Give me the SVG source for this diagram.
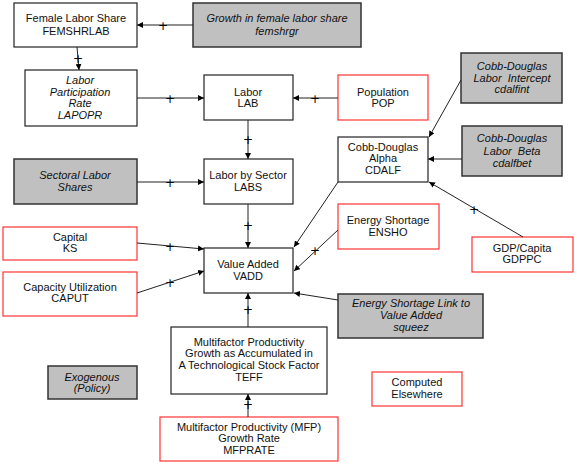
<svg xmlns="http://www.w3.org/2000/svg" width="577" height="464" viewBox="0 0 577 464">
<defs>
<marker id="ah" markerUnits="userSpaceOnUse" markerWidth="7" markerHeight="6" refX="6" refY="3" orient="auto">
<path d="M0,0 L6,3 L0,6 z" fill="#000"/>
</marker>
<style>
text{font-family:"Liberation Sans",Arial,sans-serif;font-size:11px;text-anchor:middle;fill:#111}
.it{font-style:italic}
.bw{fill:#fff;stroke:#222;stroke-width:1.2}
.bg{fill:#c0c0c0;stroke:#333;stroke-width:1.5}
.br{fill:#fff;stroke:#f33;stroke-width:1.2}
.c line{stroke:#222;stroke-width:1;marker-end:url(#ah)}
.p{font-family:"DejaVu Sans",sans-serif;font-size:12px;fill:#000}
</style>
</defs>
<rect width="577" height="464" fill="#fff"/>
<g id="femshrlab"><rect class="bw" x="14" y="3" width="123" height="44"/><text x="76" y="22">Female Labor Share</text><text x="76" y="35">FEMSHRLAB</text></g>
<g id="femshrgr"><rect class="bg" x="193" y="3" width="168" height="44"/><text class="it" x="277" y="22">Growth in female labor share</text><text class="it" x="277" y="35">femshrgr</text></g>
<g id="lapopr"><rect class="bw" x="25" y="70" width="112" height="56"/><text class="it" x="80" y="84">Labor</text><text class="it" x="80" y="96">Participation</text><text class="it" x="80" y="107">Rate</text><text class="it" x="80" y="119">LAPOPR</text></g>
<g id="lab"><rect class="bw" x="204" y="75" width="89" height="45"/><text x="248" y="96">Labor</text><text x="248" y="107">LAB</text></g>
<g id="pop"><rect class="br" x="338" y="75" width="90" height="45"/><text x="383" y="96">Population</text><text x="383" y="107">POP</text></g>
<g id="cdalfint"><rect class="bg" x="461" y="53" width="101" height="50"/><text class="it" x="512" y="70">Cobb-Douglas</text><text class="it" x="512" y="82" xml:space="preserve">Labor  Intercept</text><text class="it" x="512" y="93">cdalfint</text></g>
<g id="cdalf"><rect class="bw" x="338" y="137" width="90" height="45"/><text x="383" y="151">Cobb-Douglas</text><text x="383" y="162">Alpha</text><text x="383" y="174">CDALF</text></g>
<g id="cdalfbet"><rect class="bg" x="462" y="126" width="100" height="50"/><text class="it" x="512" y="142">Cobb-Douglas</text><text class="it" x="512" y="155" xml:space="preserve">Labor  Beta</text><text class="it" x="512" y="167">cdalfbet</text></g>
<g id="sectoral"><rect class="bg" x="14" y="159" width="123" height="45"/><text class="it" x="75" y="179">Sectoral Labor</text><text class="it" x="75" y="191">Shares</text></g>
<g id="labs"><rect class="bw" x="204" y="159" width="89" height="45"/><text x="248" y="179">Labor by Sector</text><text x="248" y="191">LABS</text></g>
<g id="ks"><rect class="br" x="3" y="227" width="134" height="33"/><text x="70" y="241">Capital</text><text x="70" y="252">KS</text></g>
<g id="caput"><rect class="br" x="3" y="272" width="134" height="44"/><text x="70" y="291">Capacity Utilization</text><text x="70" y="302">CAPUT</text></g>
<g id="vadd"><rect class="bw" x="204" y="248" width="89" height="45"/><text x="248" y="268">Value Added</text><text x="248" y="280">VADD</text></g>
<g id="ensho"><rect class="br" x="338" y="204" width="101" height="45"/><text x="388" y="224">Energy Shortage</text><text x="388" y="236">ENSHO</text></g>
<g id="gdppc"><rect class="br" x="472" y="237" width="101" height="35"/><text x="522" y="252">GDP/Capita</text><text x="522" y="263">GDPPC</text></g>
<g id="squeez"><rect class="bg" x="338" y="294" width="145" height="44"/><text class="it" x="411" y="307">Energy Shortage Link to</text><text class="it" x="411" y="319">Value Added</text><text class="it" x="411" y="331">squeez</text></g>
<g id="teff"><rect class="bw" x="171" y="327" width="156" height="67"/><text x="249" y="346">Multifactor Productivity</text><text x="249" y="357">Growth as Accumulated in</text><text x="249" y="369">A Technological Stock Factor</text><text x="249" y="381">TEFF</text></g>
<g id="exogenous"><rect class="bg" x="48" y="366" width="89" height="33"/><text class="it" x="92" y="381">Exogenous</text><text class="it" x="92" y="392">(Policy)</text></g>
<g id="computed"><rect class="br" x="372" y="372" width="90" height="34"/><text x="417" y="386">Computed</text><text x="417" y="398">Elsewhere</text></g>
<g id="mfprate"><rect class="br" x="160" y="417" width="178" height="44"/><text x="249" y="431">Multifactor Productivity (MFP)</text><text x="249" y="442">Growth Rate</text><text x="249" y="454">MFPRATE</text></g>
<g id="connectors" class="c">
<line x1="193" y1="25" x2="137" y2="25"/>
<line x1="77" y1="47" x2="79" y2="70"/>
<line x1="137" y1="98" x2="204" y2="98"/>
<line x1="338" y1="98" x2="293" y2="98"/>
<line x1="248" y1="120" x2="248" y2="159"/>
<line x1="137" y1="182" x2="204" y2="182"/>
<line x1="248" y1="204" x2="248" y2="248"/>
<line x1="137" y1="243" x2="204" y2="249"/>
<line x1="137" y1="293" x2="204" y2="271"/>
<line x1="461" y1="80" x2="429" y2="137"/>
<line x1="462" y1="159" x2="428" y2="159"/>
<line x1="523" y1="237" x2="429" y2="182"/>
<line x1="338" y1="182" x2="294" y2="247"/>
<line x1="338" y1="230" x2="294" y2="271"/>
<line x1="338" y1="300" x2="294" y2="293"/>
<line x1="248" y1="327" x2="248" y2="293"/>
<line x1="248" y1="417" x2="248" y2="394"/>
<g id="plus-labels">
<text class="p" x="163" y="29.5">+</text>
<text class="p" x="78" y="62.5">+</text>
<text class="p" x="170" y="102.5">+</text>
<text class="p" x="315" y="102.5">+</text>
<text class="p" x="248" y="143.5">+</text>
<text class="p" x="170" y="186.5">+</text>
<text class="p" x="248" y="229.5">+</text>
<text class="p" x="170" y="250.5">+</text>
<text class="p" x="170" y="286.5">+</text>
<text class="p" x="474" y="213.5">+</text>
<text class="p" x="315" y="254.5">+</text>
<text class="p" x="248" y="313.5">+</text>
<text class="p" x="248" y="408.5">+</text>
</g>
</g>
</svg>
